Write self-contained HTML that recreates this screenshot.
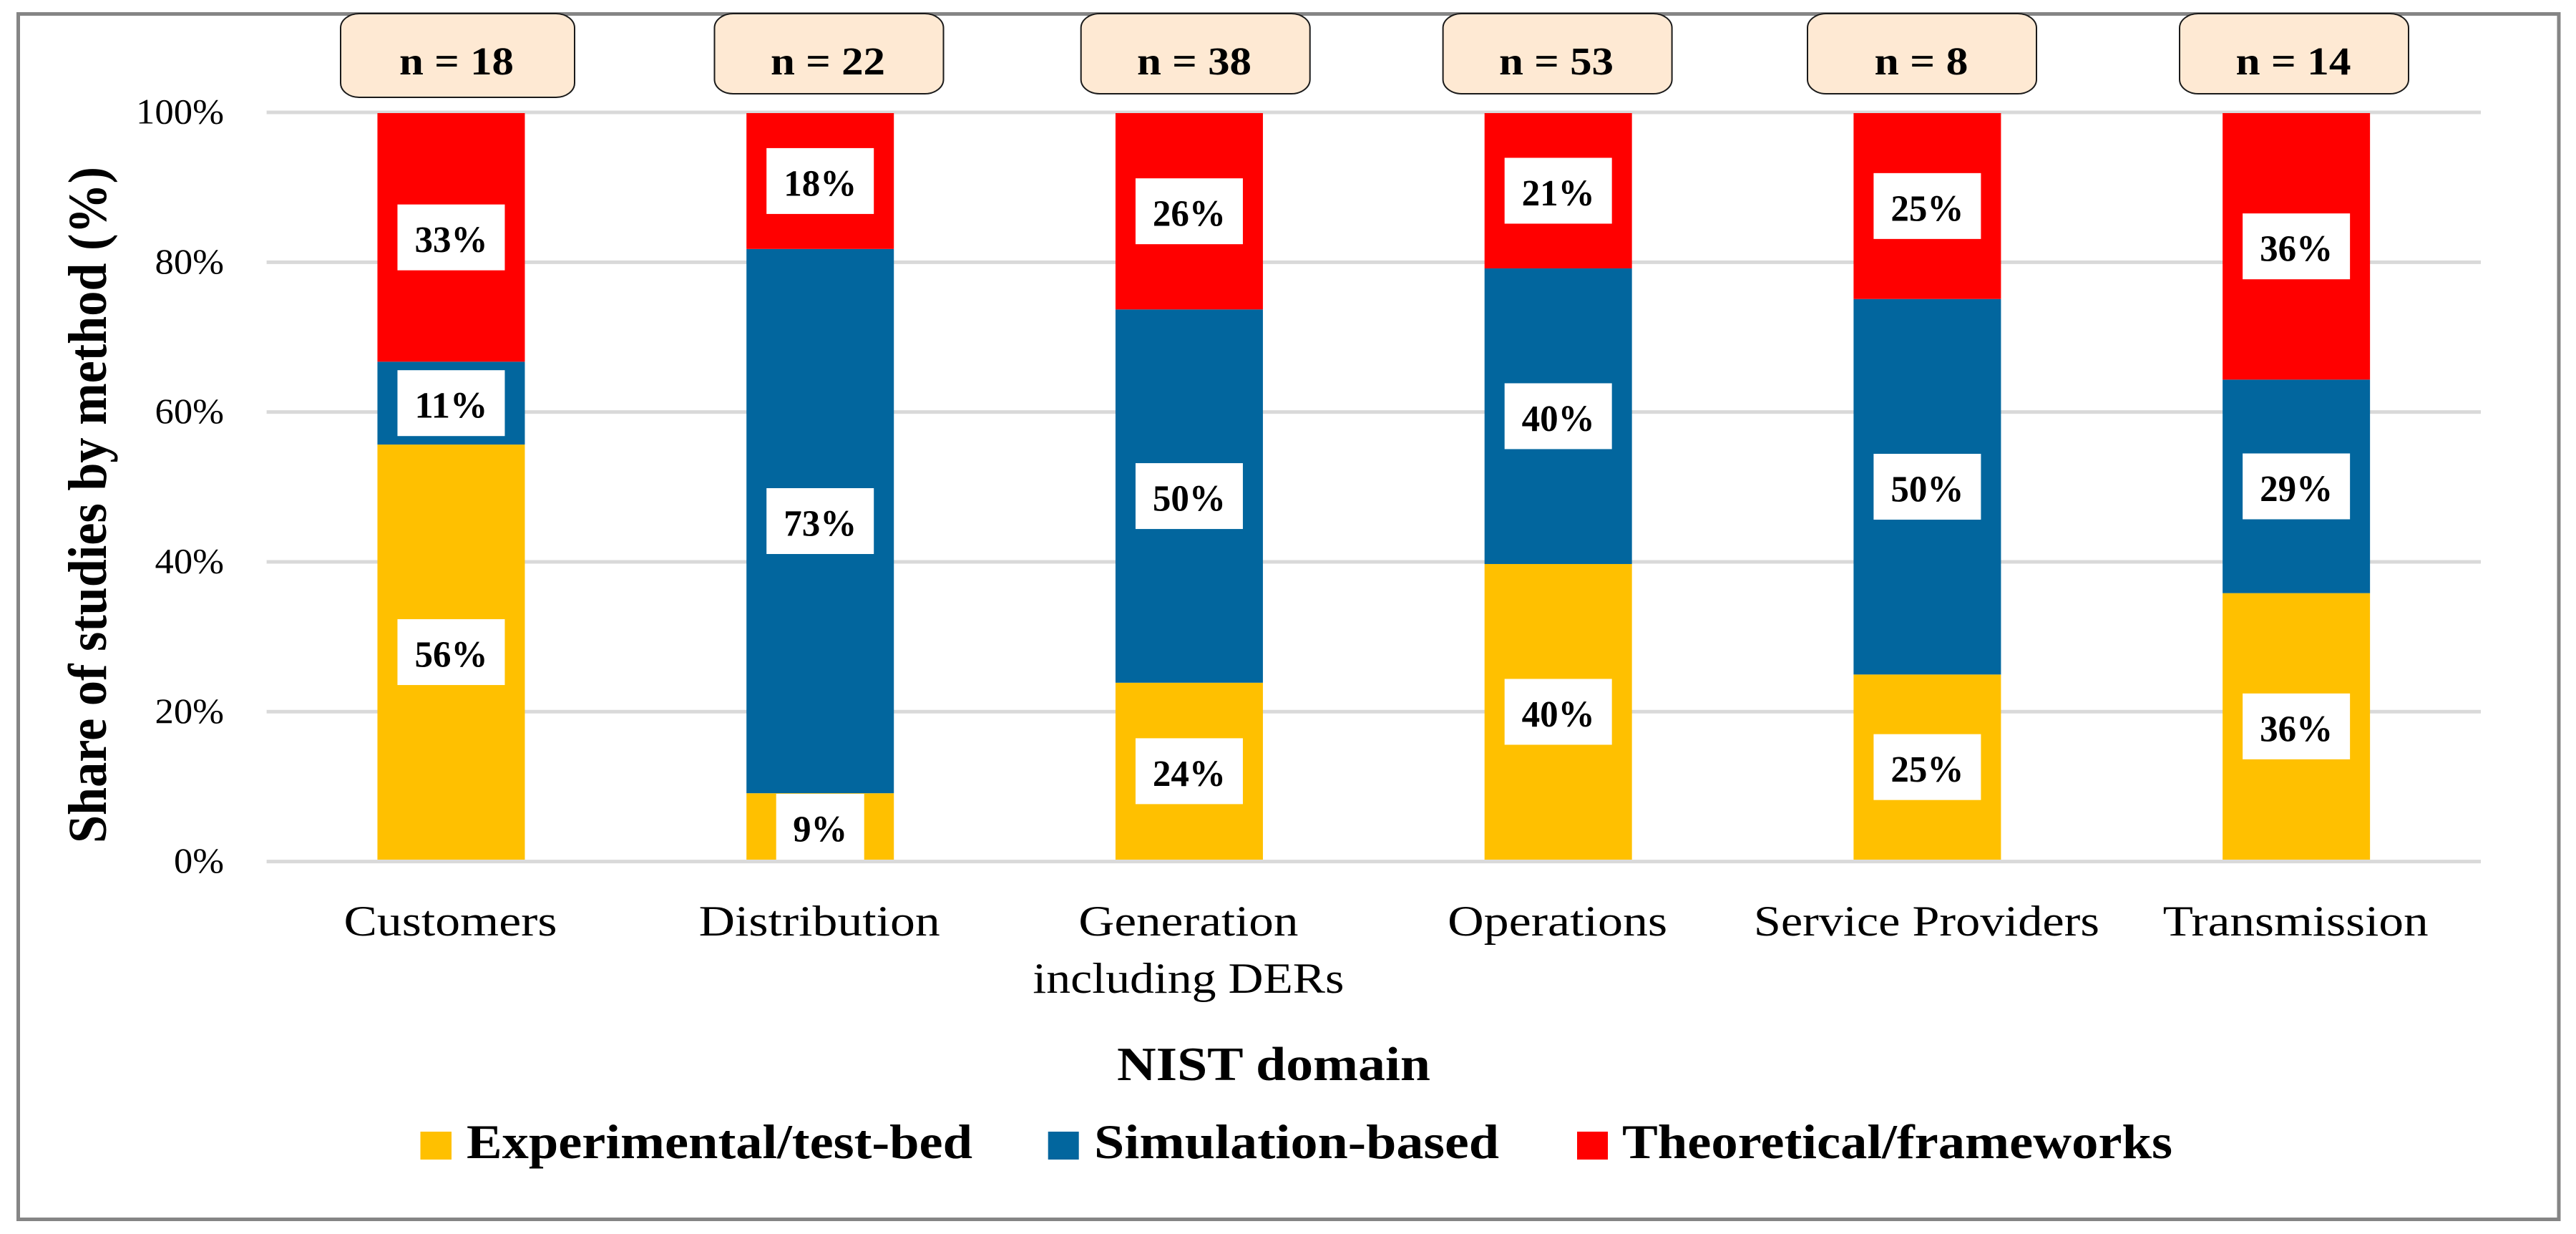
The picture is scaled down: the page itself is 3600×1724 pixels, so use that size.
<!DOCTYPE html>
<html lang="en">
<head>
<meta charset="utf-8">
<title>Share of studies by method per NIST domain</title>
<style>
  html, body { margin: 0; padding: 0; background: #ffffff; }
  body { width: 3600px; height: 1724px; overflow: hidden; }
  svg { display: block; }
  text { font-family: "Liberation Serif", "DejaVu Serif", serif; fill: #000000; }
  .b { font-weight: 700; }
</style>
</head>
<body>
<svg id="chart" xmlns="http://www.w3.org/2000/svg" width="3600" height="1724" viewBox="0 0 3600 1724">
  <rect x="0" y="0" width="3600" height="1724" fill="#ffffff"/>
  <rect x="25.5" y="19.5" width="3550.5" height="1684" fill="#ffffff" stroke="#858585" stroke-width="5"/>

  <g id="grid"></g>
  <g id="yticks"></g>
  <g id="bars"></g>
  <g id="labels"></g>
  <g id="xticks"></g>

  <g font-size="55">
    <g>
      <rect x="476" y="19" width="327" height="117" rx="26" ry="20" fill="#fee9d3" stroke="#1a1a1a" stroke-width="2"/>
      <text class="b" x="638" y="104" text-anchor="middle" textLength="160" lengthAdjust="spacingAndGlyphs">n = 18</text>
    </g>
    <g>
      <rect x="998.5" y="19" width="320" height="112" rx="26" ry="20" fill="#fee9d3" stroke="#1a1a1a" stroke-width="2"/>
      <text class="b" x="1157" y="104" text-anchor="middle" textLength="160" lengthAdjust="spacingAndGlyphs">n = 22</text>
    </g>
    <g>
      <rect x="1510.7" y="19" width="320" height="112" rx="26" ry="20" fill="#fee9d3" stroke="#1a1a1a" stroke-width="2"/>
      <text class="b" x="1669" y="104" text-anchor="middle" textLength="160" lengthAdjust="spacingAndGlyphs">n = 38</text>
    </g>
    <g>
      <rect x="2016.6" y="19" width="320" height="112" rx="26" ry="20" fill="#fee9d3" stroke="#1a1a1a" stroke-width="2"/>
      <text class="b" x="2175" y="104" text-anchor="middle" textLength="160" lengthAdjust="spacingAndGlyphs">n = 53</text>
    </g>
    <g>
      <rect x="2526" y="19" width="320" height="112" rx="26" ry="20" fill="#fee9d3" stroke="#1a1a1a" stroke-width="2"/>
      <text class="b" x="2685" y="104" text-anchor="middle" textLength="131" lengthAdjust="spacingAndGlyphs">n = 8</text>
    </g>
    <g>
      <rect x="3046" y="19" width="320" height="112" rx="26" ry="20" fill="#fee9d3" stroke="#1a1a1a" stroke-width="2"/>
      <text class="b" x="3205" y="104" text-anchor="middle" textLength="161" lengthAdjust="spacingAndGlyphs">n = 14</text>
    </g>
  </g>

  <text class="b" transform="translate(148 705.5) rotate(-90)" font-size="76" text-anchor="middle" textLength="945" lengthAdjust="spacingAndGlyphs">Share of studies by method (%)</text>
  <text class="b" x="1780" y="1509" font-size="67" text-anchor="middle" textLength="438" lengthAdjust="spacingAndGlyphs">NIST domain</text>

  <g font-size="68">
    <g>
      <rect x="587.5" y="1581" width="43.5" height="39" fill="#ffc000"/>
      <text class="b" x="652" y="1618" textLength="707" lengthAdjust="spacingAndGlyphs">Experimental/test-bed</text>
    </g>
    <g>
      <rect x="1464.7" y="1581" width="43" height="39" fill="#02669e"/>
      <text class="b" x="1529" y="1618" textLength="566" lengthAdjust="spacingAndGlyphs">Simulation-based</text>
    </g>
    <g>
      <rect x="2204" y="1581" width="43" height="39" fill="#ff0000"/>
      <text class="b" x="2267" y="1618" textLength="769" lengthAdjust="spacingAndGlyphs">Theoretical/frameworks</text>
    </g>
  </g>
</svg>

<script>
// Chart data
const categories = ["Customers", "Distribution", "Generation|including DERs", "Operations", "Service Providers", "Transmission"];
const experimental = [55.6, 8.9, 23.7, 39.6, 24.8, 35.7];
const simulation = [11.1, 72.9, 50.0, 39.6, 50.3, 28.6];
const theoretical = [33.3, 18.2, 26.3, 20.8, 24.9, 35.7];
const yTickValues = [0, 20, 40, 60, 80, 100];

// Axis functions and layout styling
const plotLeft = 372.6, plotRight = 3467;
const barBase = 1201, barTop = 158;
const gridBase = 1203.6, gridTop = 157;
const barWidth = 206;
const bandX = i => plotLeft + (plotRight - plotLeft) * (i + 0.5) / categories.length;
const barY = v => barBase - (barBase - barTop) * v / 100;
const gridY = v => gridBase - (gridBase - gridTop) * v / 100;

// Ink widths of the category text, so the substitute serif fills the same space
const categoryInk = {
  "Customers": 298, "Distribution": 337, "Generation": 307, "including DERs": 435,
  "Operations": 307, "Service Providers": 483, "Transmission": 371
};

const NS = "http://www.w3.org/2000/svg";
function make(parentId, tag, attrs, content) {
  const node = document.createElementNS(NS, tag);
  for (const k in attrs) node.setAttribute(k, attrs[k]);
  if (content !== undefined) node.textContent = content;
  document.getElementById(parentId).appendChild(node);
  return node;
}

// Gridlines and y tick labels
yTickValues.forEach(function (t) {
  const line = make("grid", "line", { x1: plotLeft, x2: plotRight, y1: gridY(t), y2: gridY(t), stroke: "#d9d9d9", "stroke-width": 5 });
  
  
  const label = t + "%";
  const tick = make("yticks", "text", {
    x: 313, y: gridY(t) + 15.5, "font-size": 50, "text-anchor": "end",
    textLength: 17 + label.length * 26.5, lengthAdjust: "spacingAndGlyphs"
  }, label);
  
  
});

// Stacked bars and data labels
const seriesList = [
  { key: "experimental", values: experimental, color: "#ffc000" },
  { key: "simulation", values: simulation, color: "#02669e" },
  { key: "theoretical", values: theoretical, color: "#ff0000" }
];

categories.forEach(function (cat, i) {
  let cumulative = 0;
  const cx = bandX(i);
  seriesList.forEach(function (s) {
    const v = s.values[i];
    const y0 = barY(cumulative);
    const y1 = barY(cumulative + v);
    cumulative += v;
    const bar = make("bars", "rect", { x: cx - barWidth / 2, y: y1, width: barWidth, height: y0 - y1, fill: s.color });
    
    

    const printed = Math.round(v) + "%";
    const boxW = printed.length === 2 ? 123 : 150;
    const boxH = 92;
    let mid = (y0 + y1) / 2;
    if (mid + boxH / 2 > barBase - 4 && mid + boxH / 2 < barBase + 4) mid = barBase - boxH / 2;
    const box = make("labels", "rect", { x: cx - boxW / 2, y: mid - boxH / 2, width: boxW, height: boxH, fill: "#ffffff" });
    
    
    const txt = make("labels", "text", {
      class: "b", x: cx, y: mid + 20.5, "font-size": 52, "text-anchor": "middle",
      textLength: printed.length === 2 ? 76 : 102, lengthAdjust: "spacingAndGlyphs"
    }, printed);
    
    
  });

  // Category labels
  cat.split("|").forEach(function (part, lineNo) {
    const attrs = { x: cx - 1, y: 1307 + lineNo * 80, "font-size": 60, "text-anchor": "middle", lengthAdjust: "spacingAndGlyphs" };
    if (categoryInk[part]) attrs.textLength = categoryInk[part];
    const t = make("xticks", "text", attrs, part);
    
    
  });
});
</script>
</body>
</html>
